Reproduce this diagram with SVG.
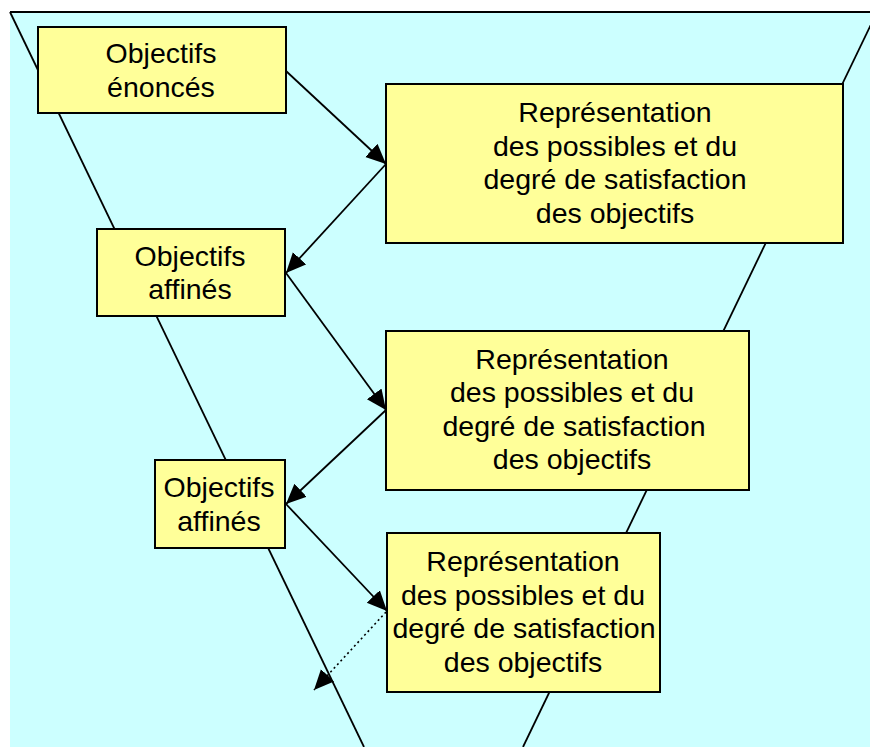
<svg xmlns="http://www.w3.org/2000/svg" width="870" height="747" viewBox="0 0 870 747">
  <style>
    .box { fill: #FFFF99; stroke: #000; stroke-width: 2; }
    .lbl { font-family: "Liberation Sans", Arial, sans-serif; font-size: 28.5px; fill: #000; text-anchor: middle; }
    .edge { stroke: #000; stroke-width: 1.8; fill: none; }
    .funnel { stroke: #000; stroke-width: 1.8; fill: none; }
    .dotted { stroke-dasharray: 2 3; stroke-width: 1.6; }
  </style>
  <defs>
    <marker id="arrow" markerUnits="userSpaceOnUse" markerWidth="22" markerHeight="20" refX="20" refY="9" orient="auto">
      <path d="M0,0 L20,9 L0,18 z" fill="#000"/>
    </marker>
  </defs>

  <rect x="0" y="0" width="870" height="747" fill="#FFFFFF"/>
  <rect x="10" y="12" width="860" height="735" fill="#CCFFFF"/>
  <line x1="10" y1="12" x2="870" y2="12" stroke="#000" stroke-width="2"/>

  <g id="funnel">
    <line class="funnel" x1="10" y1="12" x2="364" y2="747"/>
    <line class="funnel" x1="877" y1="12" x2="523" y2="747"/>
  </g>

  <g id="connectors">
    <line class="edge" x1="286" y1="71" x2="386" y2="164" marker-end="url(#arrow)"/>
    <line class="edge" x1="386" y1="164" x2="286" y2="273" marker-end="url(#arrow)"/>
    <line class="edge" x1="286" y1="273" x2="386" y2="410" marker-end="url(#arrow)"/>
    <line class="edge" x1="386" y1="410" x2="286" y2="504" marker-end="url(#arrow)"/>
    <line class="edge" x1="286" y1="504" x2="387" y2="611" marker-end="url(#arrow)"/>
    <line class="edge dotted" x1="386" y1="612" x2="314" y2="690" marker-end="url(#arrow)"/>
  </g>

  <g id="objectifs-enonces">
    <rect class="box" x="38" y="27" width="248" height="86"/>
    <text class="lbl" x="161" y="63">Objectifs</text>
    <text class="lbl" x="161" y="97">énoncés</text>
  </g>

  <g id="representation-1">
    <rect class="box" x="386" y="84" width="457" height="159"/>
    <text class="lbl" x="615" y="122">Représentation</text>
    <text class="lbl" x="615" y="155.5">des possibles et du</text>
    <text class="lbl" x="615" y="189">degré de satisfaction</text>
    <text class="lbl" x="615" y="222.5">des objectifs</text>
  </g>

  <g id="objectifs-affines-1">
    <rect class="box" x="97" y="229" width="188" height="87"/>
    <text class="lbl" x="190" y="266">Objectifs</text>
    <text class="lbl" x="190" y="299">affinés</text>
  </g>

  <g id="representation-2">
    <rect class="box" x="386" y="331" width="363" height="159"/>
    <text class="lbl" x="572" y="369">Représentation</text>
    <text class="lbl" x="572" y="402">des possibles et du</text>
    <text class="lbl" x="574" y="435.5">degré de satisfaction</text>
    <text class="lbl" x="572" y="469">des objectifs</text>
  </g>

  <g id="objectifs-affines-2">
    <rect class="box" x="155" y="460" width="130" height="88"/>
    <text class="lbl" x="219" y="497">Objectifs</text>
    <text class="lbl" x="219" y="531">affinés</text>
  </g>

  <g id="representation-3">
    <rect class="box" x="387" y="533" width="273" height="159"/>
    <text class="lbl" x="523" y="571">Représentation</text>
    <text class="lbl" x="523" y="604.5">des possibles et du</text>
    <text class="lbl" x="524" y="638">degré de satisfaction</text>
    <text class="lbl" x="523" y="671.5">des objectifs</text>
  </g>
</svg>
